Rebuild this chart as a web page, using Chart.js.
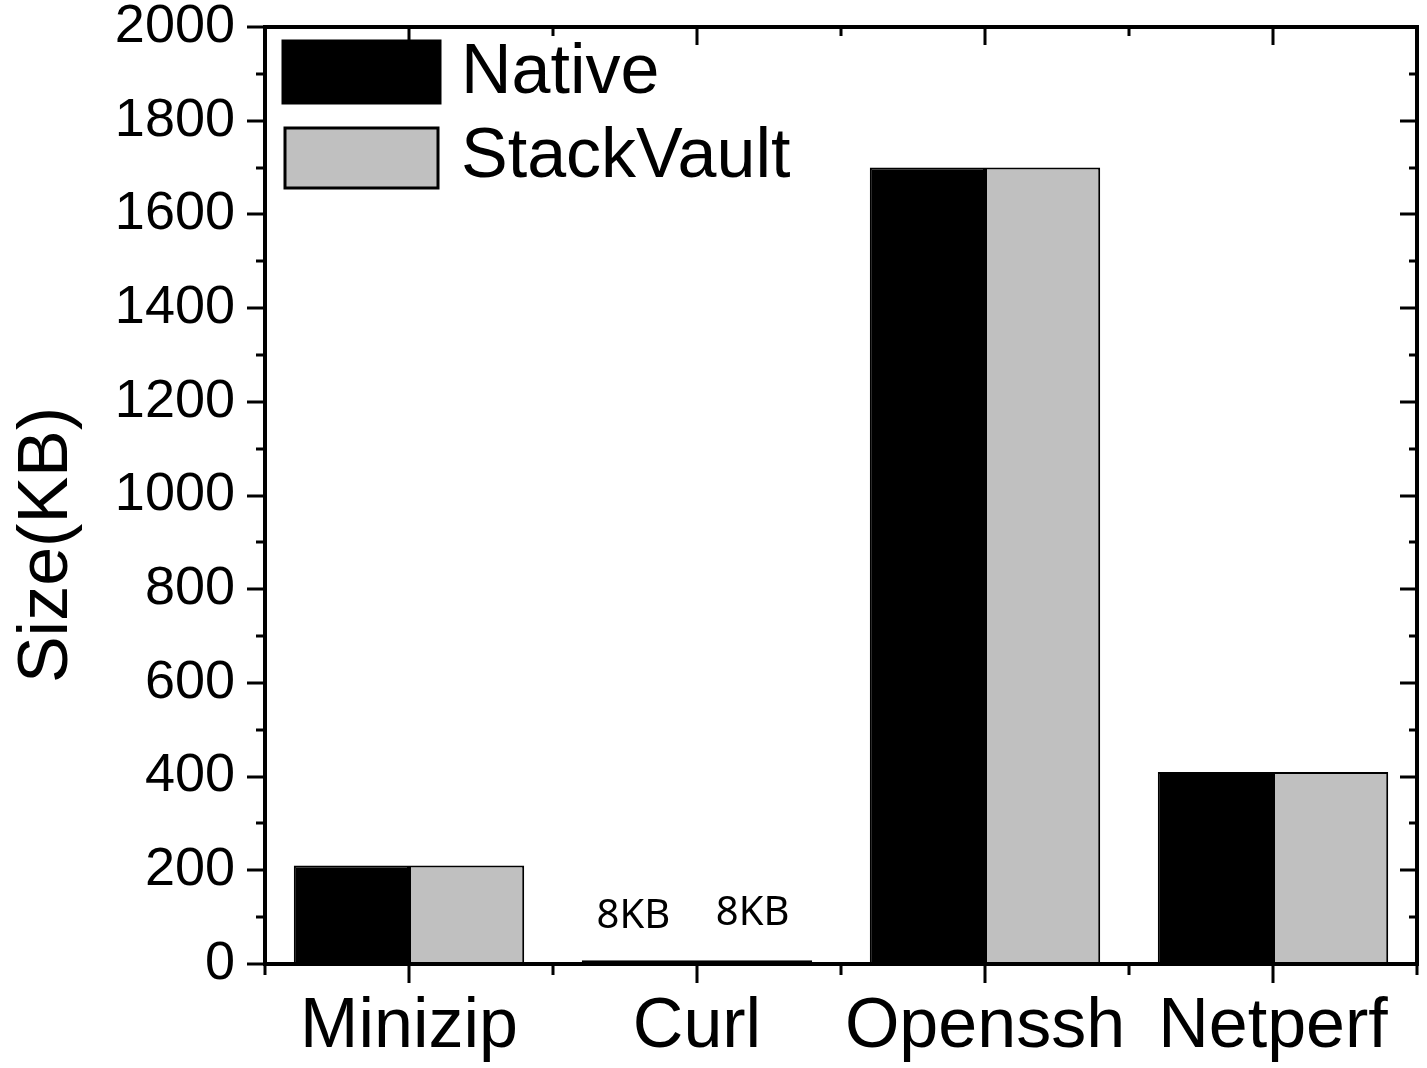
<!DOCTYPE html>
<html>
<head>
<meta charset="utf-8">
<script src="https://cdn.jsdelivr.net/npm/chart.js@4.4.0/dist/chart.umd.min.js"></script>
<style>
html,body{margin:0;padding:0;background:#fff;}
#wrap{width:1427px;height:1068px;position:relative;}
</style>
</head>
<body>
<div id="wrap"><canvas id="c" width="1427" height="1068"></canvas></div>
<script>
const categories = ['Minizip', 'Curl', 'Openssh', 'Netperf'];
const nativeValues = [210, 8, 1700, 410];
const stackVaultValues = [210, 8, 1700, 410];
const seriesNames = ['Native', 'StackVault'];
const annotationText = ['', '8KB', '', ''];
const yTitle = 'Size(KB)';
const yMin = 0, yMax = 2000, yStep = 200;

const FONT = '"Liberation Sans", Arial, sans-serif';

const framePlugin = {
  id: 'frame',
  afterDraw(chart) {
    const ctx = chart.ctx;
    const a = chart.chartArea;
    const ys = chart.scales.y, xs = chart.scales.x;
    ctx.save();
    ctx.strokeStyle = '#000';
    ctx.lineCap = 'butt';
    ctx.lineWidth = 3;
    for (let v = yMin; v <= yMax; v += yStep / 2) {
      const py = Math.round(ys.getPixelForValue(v));
      const major = (v % yStep) === 0;
      const lenL = major ? 18 : 9;
      const lenR = major ? 17 : 8;
      ctx.beginPath();
      ctx.moveTo(a.left - lenL, py); ctx.lineTo(a.left, py);
      ctx.moveTo(a.right, py); ctx.lineTo(a.right - lenR, py);
      ctx.stroke();
    }
    const n = categories.length;
    for (let i = 0; i < n; i++) {
      const px = Math.round(xs.getPixelForValue(i));
      ctx.beginPath();
      ctx.moveTo(px, a.bottom); ctx.lineTo(px, a.bottom + 19);
      ctx.moveTo(px, a.top); ctx.lineTo(px, a.top + 18);
      ctx.stroke();
    }
    for (let i = 0; i <= n; i++) {
      const px = Math.round(xs.getPixelForValue(i - 0.5));
      ctx.beginPath();
      ctx.moveTo(px, a.bottom); ctx.lineTo(px, a.bottom + 11);
      ctx.moveTo(px, a.top); ctx.lineTo(px, a.top + 9);
      ctx.stroke();
    }
    ctx.lineWidth = 4;
    ctx.strokeRect(a.left, a.top, a.right - a.left, a.bottom - a.top);

    // y axis title
    ctx.save();
    ctx.translate(48, 545);
    ctx.rotate(-Math.PI / 2);
    ctx.font = '70px ' + FONT;
    ctx.fillStyle = '#000';
    ctx.textAlign = 'center';
    ctx.textBaseline = 'middle';
    ctx.fillText(yTitle, 0, 0);
    ctx.restore();

    // legend
    const ds = chart.data.datasets;
    const boxes = [[283, 41, 157, 62], [285, 128, 153, 60]];
    const textY = [74, 158];
    ctx.font = '70px ' + FONT;
    ctx.textBaseline = 'middle';
    ctx.textAlign = 'left';
    for (let i = 0; i < ds.length; i++) {
      const b = boxes[i];
      ctx.fillStyle = ds[i].backgroundColor;
      ctx.fillRect(b[0], b[1], b[2], b[3]);
      ctx.lineWidth = 3;
      ctx.strokeStyle = '#000';
      ctx.strokeRect(b[0], b[1], b[2], b[3]);
      ctx.fillStyle = '#000';
      ctx.fillText(ds[i].label, 461, textY[i]);
    }

    // annotations
    ctx.font = '40px "Noto Sans", "Open Sans", sans-serif';
    ctx.textAlign = 'center';
    ctx.textBaseline = 'middle';
    const offs = [[-6, -44], [-2, -47]];
    for (let d = 0; d < ds.length; d++) {
      const meta = chart.getDatasetMeta(d);
      meta.data.forEach((el, i) => {
        if (!annotationText[i]) return;
        ctx.fillText(annotationText[i], el.x + offs[d][0], el.y + offs[d][1]);
      });
    }
    ctx.restore();
  }
};

new Chart(document.getElementById('c'), {
  type: 'bar',
  data: {
    labels: categories,
    datasets: [
      { label: seriesNames[0], data: nativeValues, backgroundColor: '#000000', borderColor: '#000000', borderWidth: 2, borderSkipped: false, categoryPercentage: 0.8, barPercentage: 1.0 },
      { label: seriesNames[1], data: stackVaultValues, backgroundColor: '#c0c0c0', borderColor: '#000000', borderWidth: 2, borderSkipped: false, categoryPercentage: 0.8, barPercentage: 1.0 }
    ]
  },
  options: {
    responsive: false,
    animation: false,
    devicePixelRatio: 1,
    layout: { padding: { top: 27, right: 10, left: 0, bottom: 0 } },
    plugins: { legend: { display: false }, tooltip: { enabled: false } },
    scales: {
      x: {
        grid: { display: false, drawTicks: false },
        border: { display: false },
        ticks: { color: '#000', font: { family: FONT, size: 70 }, padding: 22, maxRotation: 0 },
        afterFit(s) { s.height = 104; s.paddingLeft = 0; s.paddingRight = 0; }
      },
      y: {
        min: yMin, max: yMax,
        grid: { display: false, drawTicks: false },
        border: { display: false },
        ticks: { stepSize: yStep, color: '#000', font: { family: FONT, size: 54 }, padding: 30, callback: (v) => String(v) },
        title: { display: false },
        afterFit(s) { s.width = 265; s.paddingTop = 0; s.paddingBottom = 0; }
      }
    }
  },
  plugins: [framePlugin]
});
</script>
</body>
</html>
